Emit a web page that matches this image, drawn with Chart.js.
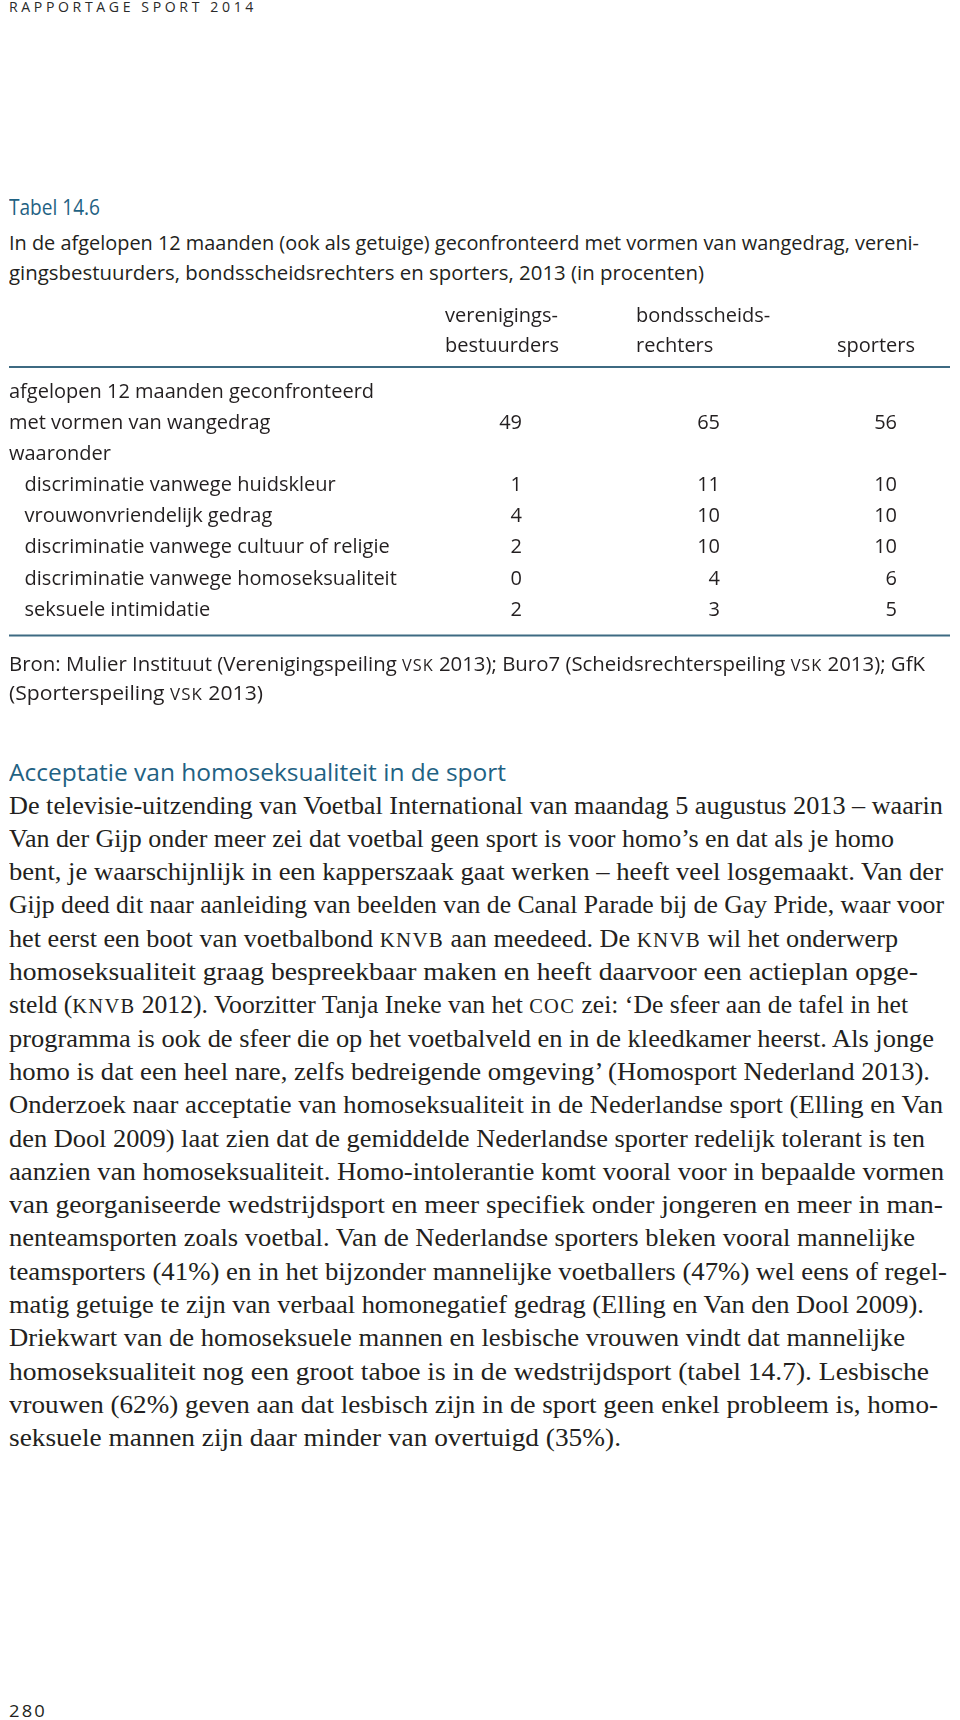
<!DOCTYPE html>
<html lang="nl">
<head>
<meta charset="utf-8">
<title>Tabel 14.6</title>
<script src="https://cdn.jsdelivr.net/npm/chart.js@4.4.1/dist/chart.umd.min.js"></script>
<style>
  html, body { margin: 0; padding: 0; background: #fff; }
  body { width: 960px; height: 1720px; position: relative; overflow: hidden; color: #231f20;
         font-family: "Open Sans", "Noto Sans", sans-serif; }
  .ln { position: absolute; left: 9px; white-space: nowrap; transform-origin: 0 50%; }
  .sans { font-family: "Open Sans", "Noto Sans", sans-serif; font-size: 20px; line-height: 30px; }
  .serif { font-family: "Liberation Serif", "DejaVu Serif", serif; font-size: 26px; line-height: 33px; }
  .teal { color: #1f6283; }
  .sc { font-size: 0.8em; letter-spacing: 0.06em; }
  .runhead { font-size: 14px; line-height: 14px; letter-spacing: 3.6px; color: #2a2a2a; }
  .folio { font-size: 17px; line-height: 30px; letter-spacing: 2px; }
  #tableChart { position: absolute; left: 0; top: 290px; }
</style>
</head>
<body>

<div class="ln sans runhead fit" style="top:0px" data-r="257">RAPPORTAGE SPORT 2014</div>

<div class="ln sans teal fit" style="top:192px; font-size:21px" data-r="100">Tabel 14.6</div>
<div class="ln sans fit" style="top:228px" data-r="919">In de afgelopen 12 maanden (ook als getuige) geconfronteerd met vormen van wangedrag, vereni-</div>
<div class="ln sans fit" style="top:258px" data-r="704">gingsbestuurders, bondsscheidsrechters en sporters, 2013 (in procenten)</div>

<canvas id="tableChart" width="960" height="370" style="width:960px;height:370px"></canvas>

<div class="ln sans fit" style="top:649px" data-r="925">Bron: Mulier Instituut (Verenigingspeiling <span class="sc">VSK</span> 2013); Buro7 (Scheidsrechterspeiling <span class="sc">VSK</span> 2013); GfK</div>
<div class="ln sans fit" style="top:678px" data-r="263">(Sporterspeiling <span class="sc">VSK</span> 2013)</div>

<div class="ln sans teal fit" style="top:757px; font-size:23px" data-r="506">Acceptatie van homoseksualiteit in de sport</div>
<div id="body"></div>

<div class="ln sans folio fit" style="top:1696px" data-r="47">280</div>

<script>
// table data (percentages)
const columns = ['verenigingsbestuurders', 'bondsscheidsrechters', 'sporters'];
const columnHeaders = [['verenigings-', 'bestuurders'], ['bondsscheids-', 'rechters'], ['', 'sporters']];
const rowLabels = [
    'afgelopen 12 maanden geconfronteerd',
    'met vormen van wangedrag',
    'waaronder',
    'discriminatie vanwege huidskleur',
    'vrouwonvriendelijk gedrag',
    'discriminatie vanwege cultuur of religie',
    'discriminatie vanwege homoseksualiteit',
    'seksuele intimidatie'
];
const rowIndent = [0, 0, 0, 1, 1, 1, 1, 1];
const verenigingsbestuurders = [null, 49, null, 1, 4, 2, 0, 2];
const bondsscheidsrechters = [null, 65, null, 11, 10, 10, 4, 3];
const sporters = [null, 56, null, 10, 10, 10, 6, 5];

// body text, line by line as printed; right edge of each line
const bodyLines = [
    'De televisie-uitzending van Voetbal International van maandag 5 augustus 2013 – waarin',
    'Van der Gijp onder meer zei dat voetbal geen sport is voor homo’s en dat als je homo',
    'bent, je waarschijnlijk in een kapperszaak gaat werken – heeft veel losgemaakt. Van der',
    'Gijp deed dit naar aanleiding van beelden van de Canal Parade bij de Gay Pride, waar voor',
    'het eerst een boot van voetbalbond <span class="sc">KNVB</span> aan meedeed. De <span class="sc">KNVB</span> wil het onderwerp',
    'homoseksualiteit graag bespreekbaar maken en heeft daarvoor een actieplan opge-',
    'steld (<span class="sc">KNVB</span> 2012). Voorzitter Tanja Ineke van het <span class="sc">COC</span> zei: ‘De sfeer aan de tafel in het',
    'programma is ook de sfeer die op het voetbalveld en in de kleedkamer heerst. Als jonge',
    'homo is dat een heel nare, zelfs bedreigende omgeving’ (Homosport Nederland 2013).',
    'Onderzoek naar acceptatie van homoseksualiteit in de Nederlandse sport (Elling en Van',
    'den Dool 2009) laat zien dat de gemiddelde Nederlandse sporter redelijk tolerant is ten',
    'aanzien van homoseksualiteit. Homo-intolerantie komt vooral voor in bepaalde vormen',
    'van georganiseerde wedstrijdsport en meer specifiek onder jongeren en meer in man-',
    'nenteamsporten zoals voetbal. Van de Nederlandse sporters bleken vooral mannelijke',
    'teamsporters (41%) en in het bijzonder mannelijke voetballers (47%) wel eens of regel-',
    'matig getuige te zijn van verbaal homonegatief gedrag (Elling en Van den Dool 2009).',
    'Driekwart van de homoseksuele mannen en lesbische vrouwen vindt dat mannelijke',
    'homoseksualiteit nog een groot taboe is in de wedstrijdsport (tabel 14.7). Lesbische',
    'vrouwen (62%) geven aan dat lesbisch zijn in de sport geen enkel probleem is, homo-',
    'seksuele mannen zijn daar minder van overtuigd (35%).'
];
const bodyRight = [943, 894, 943, 944, 898, 918, 908, 934, 930, 943, 925, 944, 943, 915, 947, 924, 905, 929, 938, 621];

const bodyBox = document.getElementById('body');
bodyLines.forEach((txt, i) => {
    const d = document.createElement('div');
    d.className = 'ln serif fit';
    d.style.top = (805 + 33.3 * i - 16.5).toFixed(1) + 'px';
    d.dataset.r = bodyRight[i];
    d.innerHTML = txt;
    bodyBox.appendChild(d);
});

// squeeze/stretch each printed line to its measured width
function fitLines() {
    document.querySelectorAll('.fit').forEach(el => {
        el.style.transform = '';
        const target = +el.dataset.r - el.offsetLeft;
        const w = el.getBoundingClientRect().width;
        if (w > 0) {
            const k = target / w;
            if (k > 0.75 && k < 1.3) el.style.transform = 'scaleX(' + k.toFixed(4) + ')';
        }
    });
}
fitLines();
if (document.fonts) document.fonts.ready.then(fitLines);

// the table itself
Chart.defaults.font.family = '"Open Sans", "Noto Sans", sans-serif';
Chart.defaults.color = '#231f20';

const tableValues = [verenigingsbestuurders, bondsscheidsrechters, sporters];
const ruleColor = '#3d6a82';
const colNudge = [7, 14, 0]; // numbers sit right-aligned a bit off the column tick

const tablePlugin = {
    id: 'tableText',
    afterDraw(chart) {
        const { ctx, chartArea, scales } = chart;
        ctx.save();
        // rules above and below the body
        ctx.strokeStyle = ruleColor;
        ctx.lineWidth = 2;
        [chartArea.top - 9.5, chartArea.bottom + 10].forEach(y => {
            ctx.beginPath();
            ctx.moveTo(9, y);
            ctx.lineTo(950, y);
            ctx.stroke();
        });
        // column headers
        ctx.font = '20px "Open Sans", "Noto Sans", sans-serif';
        ctx.fillStyle = '#231f20';
        ctx.textBaseline = 'middle';
        columnHeaders.forEach((lines, c) => {
            const x = scales.x.getPixelForValue(c);
            const last = c === columnHeaders.length - 1;
            ctx.textAlign = last ? 'right' : 'left';
            lines.forEach((t, k) => {
                ctx.fillText(t, last ? x + 18 : x - 70, chartArea.top - 60.5 + 30 * k);
            });
        });
        // cell values
        ctx.textAlign = 'right';
        chart.data.datasets.forEach((ds, c) => {
            chart.getDatasetMeta(c).data.forEach((pt, i) => {
                ctx.fillText(String(ds.data[i].v), pt.x + colNudge[c], pt.y);
            });
        });
        ctx.restore();
    }
};

new Chart(document.getElementById('tableChart'), {
    type: 'scatter',
    data: {
        datasets: columns.map((col, c) => ({
            label: col,
            data: rowLabels.map((row, r) => ({ x: col, y: row, v: tableValues[c][r] }))
                .filter(p => p.v !== null),
            pointRadius: 0,
            pointHoverRadius: 0
        }))
    },
    options: {
        responsive: false,
        animation: false,
        events: [],
        layout: { padding: { left: 9, right: 63, top: 86.5, bottom: 34.5 } },
        plugins: { legend: { display: false }, tooltip: { enabled: false } },
        scales: {
            x: { type: 'category', labels: columns, offset: false, display: false },
            y: {
                type: 'category',
                labels: rowLabels,
                offset: true,
                grid: { display: false },
                border: { display: false },
                ticks: {
                    autoSkip: false,
                    crossAlign: 'far',
                    font: { size: 20 },
                    color: '#231f20',
                    callback: (v, i) => (rowIndent[i] ? '   ' : '') + rowLabels[i]
                },
                afterFit: axis => { axis.width = 506; }
            }
        }
    },
    plugins: [tablePlugin]
});
</script>
</body>
</html>
